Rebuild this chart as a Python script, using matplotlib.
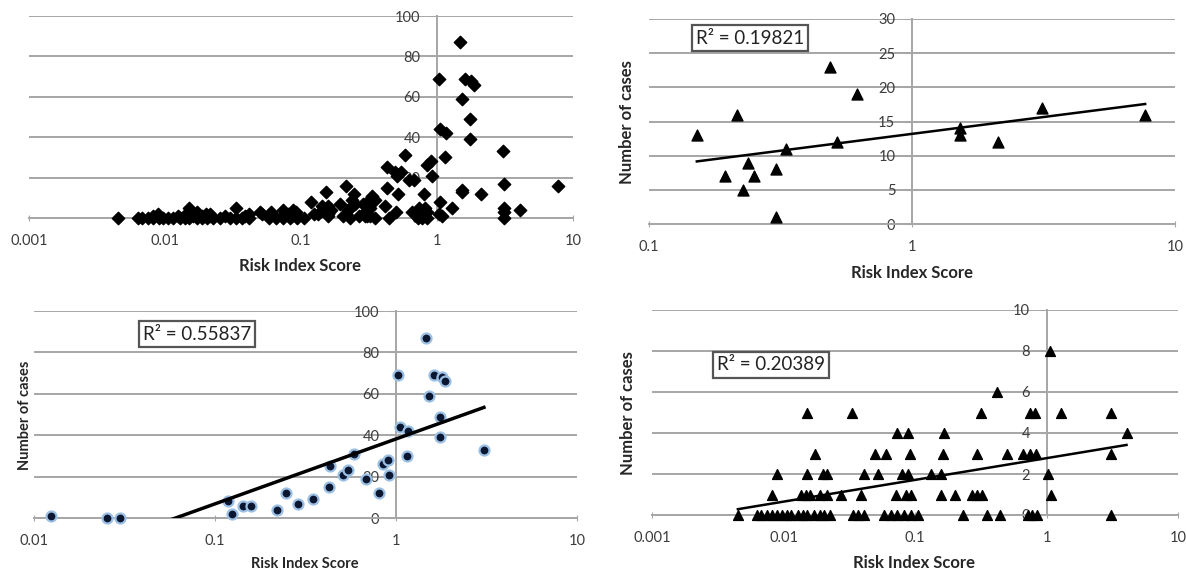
import numpy as np
import matplotlib
matplotlib.use("Agg")
import matplotlib.pyplot as plt

plt.rcParams['font.family'] = ['Lato', 'DejaVu Sans']

W, H = 1186, 573

# ---- Panel 2 (top right): triangles ----
p2_x = [0.152, 0.216, 0.194, 0.228, 0.238, 0.25, 0.304, 0.304, 0.332, 0.488,
        0.52, 0.618, 1.52, 1.52, 2.12, 3.12, 7.7]
p2_y = [13, 16, 7, 5, 9, 7, 8, 1, 11, 23, 12, 19, 14, 13, 12, 17, 16]

# ---- Panel 3 (bottom left): circles ----
p3_x = [0.0124, 0.0253, 0.030, 0.118, 0.124, 0.143, 0.158, 0.22, 0.247, 0.288,
        0.348, 0.427, 0.432, 0.509, 0.543, 0.586, 0.683, 0.805, 0.847, 0.903,
        0.914, 1.03, 1.05, 1.16, 1.15, 1.47, 1.52, 1.62, 1.79, 1.87, 1.75, 1.75, 3.06]
p3_y = [1, 0, 0, 8, 2, 6, 6, 4, 12, 7, 9, 15, 25, 21, 23, 31, 19, 12, 26, 28,
        21, 69, 44, 42, 30, 87, 59, 69, 68, 66, 49, 39, 33]

# ---- Panel 4 (bottom right): triangles ----
p4_x = [0.0045, 0.0063, 0.0068, 0.0075, 0.0082, 0.009, 0.0097, 0.0106, 0.0115, 0.0128,
        0.014, 0.015, 0.0172, 0.0188, 0.0205, 0.0225, 0.0335, 0.0366, 0.0413, 0.0586,
        0.066, 0.0736, 0.083, 0.094, 0.1045, 0.23, 0.35, 0.44, 0.72, 0.78, 0.84, 3.12,
        0.0082, 0.0137, 0.0148, 0.016, 0.0188, 0.0216, 0.0276, 0.039, 0.0723, 0.0861,
        0.094, 0.159, 0.203, 0.269, 0.294, 0.321, 1.09,
        0.0089, 0.015, 0.020, 0.0216, 0.0413, 0.0519, 0.0803, 0.0877, 0.133, 0.159, 1.035,
        0.0173, 0.050, 0.0597, 0.0924, 0.162, 0.294, 0.497, 0.657, 0.743, 0.839, 3.12,
        0.0736, 0.0877, 0.165, 4.06,
        0.015, 0.033, 0.32, 0.743, 0.811, 1.30, 3.12,
        0.417,
        1.054]
p4_y = [0] * 32 + [1] * 17 + [2] * 11 + [3] * 11 + [4] * 4 + [5] * 7 + [6] + [8]

# ---- Panel 1 (top left): all observations combined ----
p1_x = p2_x + p3_x + p4_x
p1_y = p2_y + p3_y + p4_y

r2_labels = ["R\u00b2 = 0.19821", "R\u00b2 = 0.55837", "R\u00b2 = 0.20389"]
xlabel = "Risk Index Score"
ylabel = "Number of cases"

GRID = '#a6a6a6'
TICK = '#3c3c3c'


def make_ax(x0, x1, ytop, ybot, xmin, xmax, ymax, ystep):
    ax = fig.add_axes([x0 / W, 1 - ybot / H, (x1 - x0) / W, (ybot - ytop) / H])
    ax.set_xscale('log')
    ax.set_xlim(xmin, xmax)
    ax.set_ylim(0, ymax)
    for s in ['top', 'right']:
        ax.spines[s].set_visible(False)
    ax.spines['left'].set_position(('data', 1))
    ax.spines['left'].set_color(GRID)
    ax.spines['left'].set_linewidth(1.4)
    ax.spines['bottom'].set_color(GRID)
    ax.spines['bottom'].set_linewidth(1.4)
    dec = []
    v = xmin
    while v <= xmax * 1.001:
        dec.append(v)
        v *= 10
    ax.set_xticks(dec)
    ax.set_xticklabels([('%g' % d) for d in dec])
    ax.xaxis.set_minor_locator(matplotlib.ticker.NullLocator())
    yt = np.arange(0, ymax + 0.1, ystep)
    ax.set_yticks(yt)
    ax.set_yticklabels(['%d' % t for t in yt])
    ax.tick_params(axis='x', direction='inout', length=5, color=GRID, pad=9,
                   labelsize=10.5, labelcolor=TICK)
    ax.tick_params(axis='y', direction='out', length=5, color=GRID, pad=7,
                   labelsize=10.5, labelcolor=TICK)
    ax.grid(axis='y', color=GRID, lw=1.4)
    ax.set_axisbelow(True)
    ax.patch.set_alpha(0)
    return ax


def trend(ax, x, y, lw):
    x = np.asarray(x, float)
    y = np.asarray(y, float)
    b, a = np.polyfit(np.log10(x), y, 1)
    xs = np.logspace(np.log10(x.min()), np.log10(x.max()), 100)
    ax.plot(xs, a + b * np.log10(xs), color='black', lw=lw, zorder=4)


def r2box(px, py, text):
    fig.text(px / W, 1 - py / H, text, ha='center', va='center', fontsize=13.5,
             color='#222222',
             bbox=dict(boxstyle='square,pad=0.22', fc='white', ec='#555555', lw=1.6))


fig = plt.figure(figsize=(W / 100, H / 100), dpi=100)

# Panel 1
ax1 = make_ax(29, 573, 16, 218, 0.001, 10, 100, 20)
ax1.scatter(p1_x, p1_y, marker='D', s=40, color='black', zorder=3, clip_on=False)

# Panel 2
ax2 = make_ax(649, 1175, 19, 224, 0.1, 10, 30, 5)
ax2.scatter(p2_x, p2_y, marker='^', s=62, color='black', zorder=3)
trend(ax2, p2_x, p2_y, 1.8)

# Panel 3
ax3 = make_ax(34, 577, 311, 518, 0.01, 10, 100, 20)
ax3.scatter(p3_x, p3_y, marker='o', s=52, color='#0b1630', edgecolors='#9cc0e4',
            linewidths=1.6, zorder=3, clip_on=False)
trend(ax3, p3_x, p3_y, 2.5)

# Panel 4
ax4 = make_ax(652, 1178, 310, 515, 0.001, 10, 10, 2)
ax4.scatter(p4_x, p4_y, marker='^', s=50, color='black', zorder=3, clip_on=False)
trend(ax4, p4_x, p4_y, 1.8)

# Axis labels
lab = dict(ha='center', va='center', fontweight='bold', color='#262626')
fig.text(300 / W, 1 - 266 / H, xlabel, fontsize=12, **lab)
fig.text(912 / W, 1 - 273 / H, xlabel, fontsize=12, **lab)
fig.text(305 / W, 1 - 564 / H, xlabel, fontsize=10.5, **lab)
fig.text(914 / W, 1 - 563 / H, xlabel, fontsize=12, **lab)
fig.text(627 / W, 1 - 122 / H, ylabel, fontsize=12, rotation=90, **lab)
fig.text(25 / W, 1 - 415 / H, ylabel, fontsize=10.5, rotation=90, **lab)
fig.text(628 / W, 1 - 413 / H, ylabel, fontsize=12, rotation=90, **lab)

# R-squared boxes
r2box(750, 38, r2_labels[0])
r2box(197, 334, r2_labels[1])
r2box(771, 365, r2_labels[2])

fig.savefig('out.png', dpi=100)
